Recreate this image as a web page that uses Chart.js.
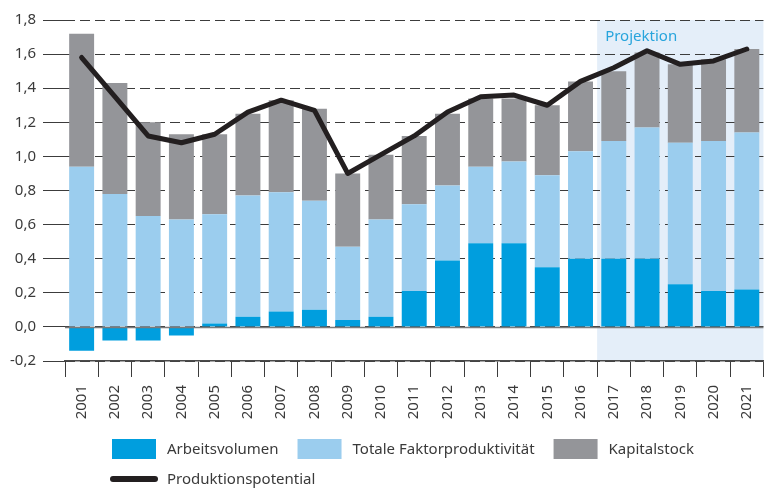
<!DOCTYPE html>
<html lang="de">
<head>
<meta charset="utf-8">
<title>Produktionspotential</title>
<script src="https://cdn.jsdelivr.net/npm/chart.js@4.4.1/dist/chart.umd.min.js"></script>
<style>
  html, body { margin: 0; padding: 0; background: #fff; }
  #wrap { position: relative; width: 773px; height: 488px; }
</style>
</head>
<body>
<div id="wrap"><canvas id="chart" width="773" height="488"></canvas></div>
<script>
// Beiträge zum Produktionspotential in Prozentpunkten
const years = ['2001', '2002', '2003', '2004', '2005', '2006', '2007', '2008', '2009', '2010',
               '2011', '2012', '2013', '2014', '2015', '2016', '2017', '2018', '2019', '2020', '2021'];
const arbeitsvolumen = [-0.14, -0.08, -0.08, -0.05, 0.02, 0.06, 0.09, 0.10, 0.04, 0.06,
                        0.21, 0.39, 0.49, 0.49, 0.35, 0.40, 0.40, 0.40, 0.25, 0.21, 0.22];
const faktorproduktivitaet = [0.94, 0.78, 0.65, 0.63, 0.64, 0.71, 0.70, 0.64, 0.43, 0.57,
                              0.51, 0.44, 0.45, 0.48, 0.54, 0.63, 0.69, 0.77, 0.83, 0.88, 0.92];
const kapitalstock = [0.78, 0.65, 0.55, 0.50, 0.47, 0.48, 0.54, 0.54, 0.43, 0.38,
                      0.40, 0.42, 0.40, 0.37, 0.41, 0.41, 0.41, 0.44, 0.46, 0.48, 0.49];
const produktionspotential = [1.58, 1.35, 1.12, 1.08, 1.13, 1.26, 1.33, 1.27, 0.90, 1.01,
                              1.12, 1.26, 1.35, 1.36, 1.30, 1.44, 1.52, 1.62, 1.54, 1.56, 1.63];
const projectionFrom = '2017';
const yTicks = { min: -0.2, max: 1.8, step: 0.2 };

const FONT = "'Noto Sans', 'Liberation Sans', sans-serif";
const TEXT = '#3a3a3a';
const GRID = '#3c3c3c';

// light blue band behind the projection years
const projectionBand = {
  id: 'projectionBand',
  beforeDraw(chart) {
    const { ctx, chartArea, scales: { x } } = chart;
    const i = years.indexOf(projectionFrom);
    const half = (x.getPixelForValue(1) - x.getPixelForValue(0)) / 2;
    const left = x.getPixelForValue(i) - half;
    ctx.save();
    ctx.fillStyle = '#e4eef9';
    ctx.fillRect(left, chartArea.top, chartArea.right - left, chartArea.bottom - chartArea.top);
    ctx.restore();
  },
  beforeDatasetsDraw(chart) {
    const { ctx, chartArea, scales: { x } } = chart;
    const i = years.indexOf(projectionFrom);
    const half = (x.getPixelForValue(1) - x.getPixelForValue(0)) / 2;
    ctx.save();
    ctx.font = '15px ' + FONT;
    ctx.fillStyle = '#27a4dc';
    ctx.textBaseline = 'alphabetic';
    ctx.fillText('Projektion', x.getPixelForValue(i) - half + 8, chartArea.top + 21);
    ctx.restore();
  }
};

// solid zero line drawn over the bars
const zeroLine = {
  id: 'zeroLine',
  afterDatasetsDraw(chart) {
    const { ctx, chartArea, scales: { y } } = chart;
    const py = Math.round(y.getPixelForValue(0)) + 0.5;
    ctx.save();
    ctx.strokeStyle = '#7a7a7a';
    ctx.lineWidth = 1.6;
    ctx.beginPath();
    ctx.moveTo(chartArea.left, py);
    ctx.lineTo(chartArea.right, py);
    ctx.stroke();
    ctx.restore();
  }
};

// legend: three bar series on the first row, the line on the second
const bottomLegend = {
  id: 'bottomLegend',
  afterDraw(chart) {
    const { ctx } = chart;
    const sets = chart.data.datasets;
    ctx.save();
    ctx.font = '15px ' + FONT;
    ctx.fillStyle = TEXT;
    ctx.textBaseline = 'middle';
    let x = 112;
    const rowY = [449, 479];
    sets.filter(d => d.type !== 'line').forEach(d => {
      ctx.fillStyle = d.backgroundColor;
      ctx.fillRect(x, rowY[0] - 10, 44, 20);
      ctx.fillStyle = TEXT;
      ctx.fillText(d.label, x + 55, rowY[0] + 1);
      x += 55 + ctx.measureText(d.label).width + 19;
    });
    sets.filter(d => d.type === 'line').forEach(d => {
      ctx.strokeStyle = d.borderColor;
      ctx.lineWidth = 6;
      ctx.lineCap = 'round';
      ctx.beginPath();
      ctx.moveTo(113, rowY[1]);
      ctx.lineTo(155, rowY[1]);
      ctx.stroke();
      ctx.fillStyle = TEXT;
      ctx.fillText(d.label, 167, rowY[1] + 1);
    });
    ctx.restore();
  }
};

const barDefaults = { stack: 'beitraege', order: 1, barPercentage: 0.75, categoryPercentage: 1, borderWidth: 0 };

new Chart(document.getElementById('chart'), {
  type: 'bar',
  data: {
    labels: years,
    datasets: [
      { ...barDefaults, label: 'Arbeitsvolumen', data: arbeitsvolumen, backgroundColor: '#009ede' },
      { ...barDefaults, label: 'Totale Faktorproduktivität', data: faktorproduktivitaet, backgroundColor: '#9bcdee' },
      { ...barDefaults, label: 'Kapitalstock', data: kapitalstock, backgroundColor: '#949599' },
      {
        type: 'line', label: 'Produktionspotential', data: produktionspotential,
        stack: 'potential', order: 0,
        borderColor: '#231f20', borderWidth: 5, pointRadius: 0, tension: 0,
        borderJoinStyle: 'round', borderCapStyle: 'round'
      }
    ]
  },
  options: {
    responsive: false,
    animation: false,
    layout: { padding: { top: 20, right: 8, bottom: 67, left: 0 } },
    plugins: { legend: { display: false }, tooltip: { enabled: false } },
    scales: {
      x: {
        stacked: true,
        afterFit: s => { s.height = 60; },
        grid: { offset: true, drawOnChartArea: false, tickLength: 16, color: GRID, lineWidth: 1 },
        border: { display: true, color: '#4a4a4a', width: 1.5 },
        ticks: {
          minRotation: 90, maxRotation: 90, padding: 8, autoSkip: false,
          color: TEXT, font: { family: FONT, size: 15 }
        }
      },
      y: {
        stacked: true,
        min: yTicks.min, max: yTicks.max,
        afterFit: s => { s.width = 65; },
        grid: {
          color: GRID, lineWidth: 1, tickLength: 22,
          tickBorderDash: [], tickColor: GRID
        },
        border: { display: false, dash: [10, 5] },
        ticks: {
          stepSize: yTicks.step, padding: 7, color: TEXT,
          font: { family: FONT, size: 15 },
          callback: v => Number(v).toFixed(1).replace('.', ',')
        }
      }
    }
  },
  plugins: [projectionBand, zeroLine, bottomLegend]
});
</script>
</body>
</html>
